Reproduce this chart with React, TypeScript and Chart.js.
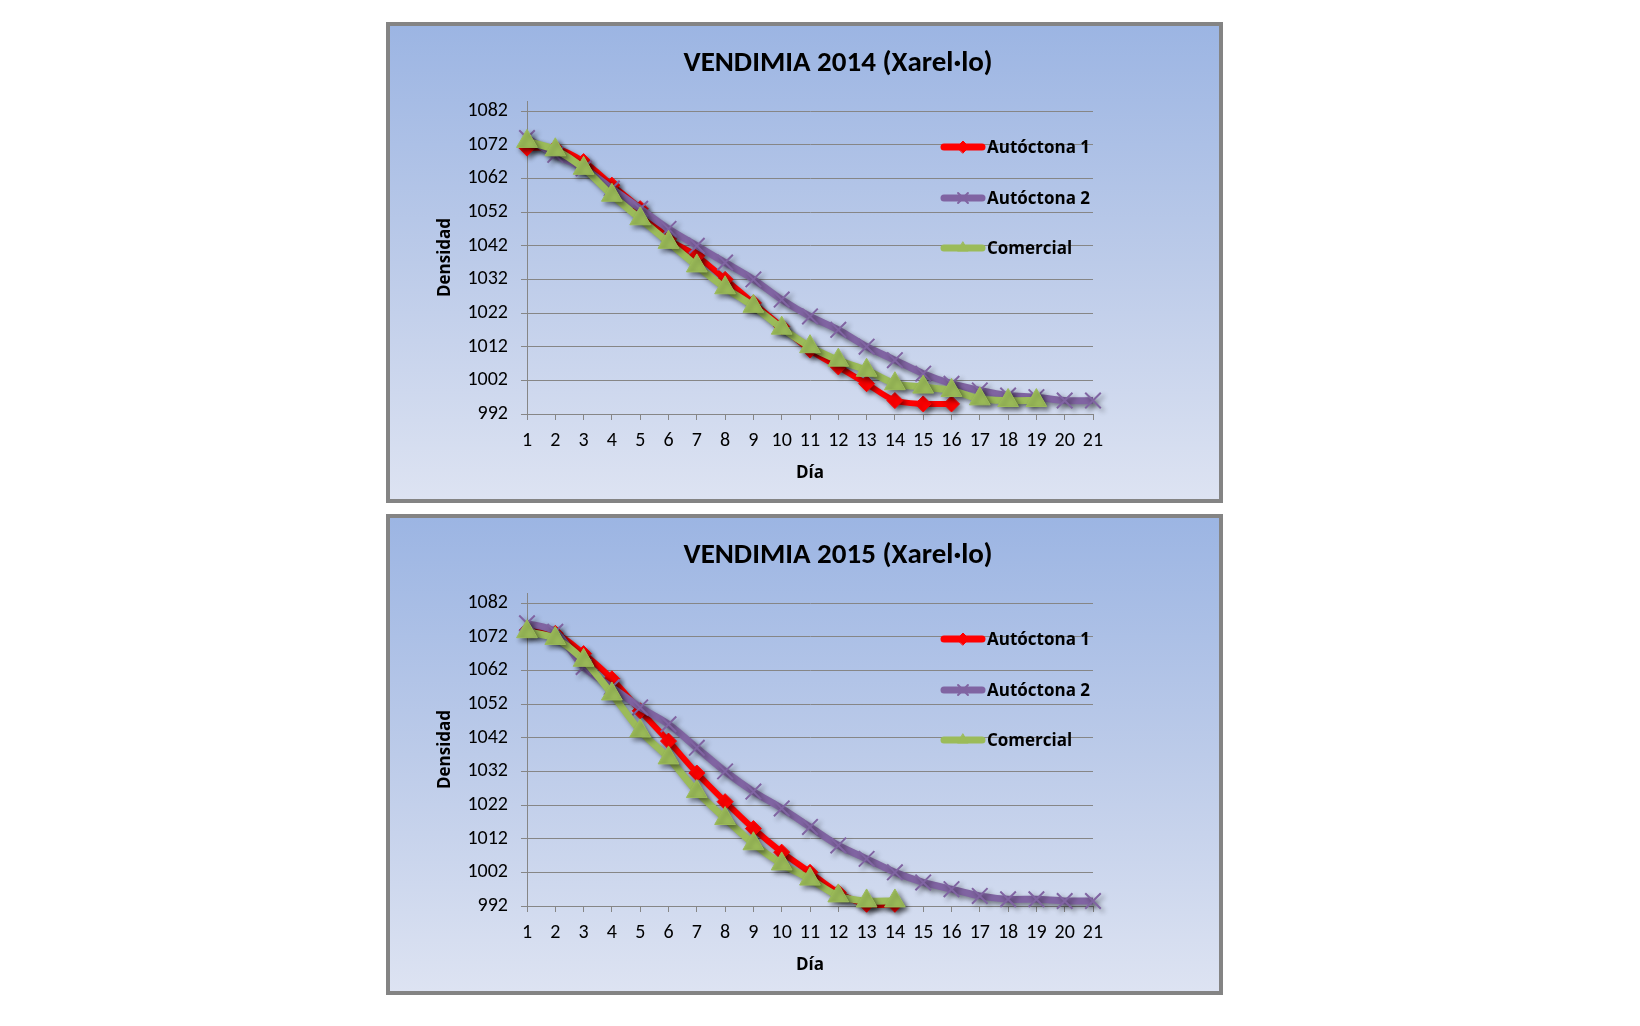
import React, { useEffect, useRef } from "react";
import { Chart, registerables } from "chart.js";
import { drawPoint } from "chart.js/helpers";

Chart.register(...registerables);

// ---- data ----
const dias = ["1", "2", "3", "4", "5", "6", "7", "8", "9", "10", "11", "12", "13", "14", "15", "16", "17", "18", "19", "20", "21"];
const yTicks = [992, 1002, 1012, 1022, 1032, 1042, 1052, 1062, 1072, 1082];
const seriesNames = ["Autóctona 1", "Autóctona 2", "Comercial"];

const autoctona1_2014 = [1071, 1071, 1067, 1060, 1053, 1044, 1039, 1032, 1025, 1018, 1011, 1006, 1001, 996, 995, 995];
const autoctona2_2014 = [1074, 1069, 1065, 1059, 1053, 1047, 1042, 1037, 1032, 1026, 1021, 1017, 1012, 1008, 1004, 1001, 999, 997.5, 997, 996, 996];
const comercial_2014 = [1073, 1070.5, 1065, 1057, 1050, 1043, 1036, 1029.5, 1024, 1017.5, 1012, 1008, 1005, 1001, 1000, 999, 996.5, 996, 996];

const autoctona1_2015 = [1074, 1073, 1067, 1059.5, 1050, 1041, 1031.5, 1023, 1015, 1008, 1002, 996, 992.5, 992.5];
const autoctona2_2015 = [1076, 1073.5, 1063, 1057, 1051, 1046, 1039, 1032, 1026, 1021, 1015.5, 1010, 1006, 1002, 999, 997, 995, 994, 994, 993.5, 993.5];
const comercial_2015 = [1073.5, 1071.5, 1065, 1055, 1044, 1036, 1026, 1018, 1010.5, 1004.5, 1000, 995, 993.5, 993.5];

// ---- styles ----
const COLORS = ["#FF0000", "#8064A2", "#9BBB59"];
const TICK_FONT = "Carlito, Lato, sans-serif";
const BOLD_FONT = "'Open Sans', sans-serif";

const shadowPlugin = {
  id: "lineShadow",
  beforeDatasetsDraw(chart: any) {
    const ctx = chart.ctx;
    ctx.save();
    ctx.shadowColor = "rgba(0,0,0,0.45)";
    ctx.shadowBlur = 5;
    ctx.shadowOffsetX = 3;
    ctx.shadowOffsetY = 3;
  },
  afterDatasetsDraw(chart: any) {
    chart.ctx.restore();
  },
};

const titlePlugin = {
  id: "panelTitle",
  afterDraw(chart: any, _args: any, opts: any) {
    const ctx = chart.ctx;
    ctx.save();
    ctx.fillStyle = "#000";
    ctx.font = `bold 29px ${TICK_FONT}`;
    ctx.textAlign = "center";
    ctx.textBaseline = "middle";
    ctx.fillText(opts.text, 448, 38);
    ctx.restore();
  },
};

const legendPlugin = {
  id: "insideLegend",
  afterDraw(chart: any) {
    const ctx = chart.ctx;
    const ys = [121, 172, 222];
    chart.data.datasets.forEach((ds: any, i: number) => {
      const y = ys[i];
      ctx.save();
      ctx.strokeStyle = ds.borderColor;
      ctx.lineWidth = 7;
      ctx.lineCap = "round";
      ctx.beginPath();
      ctx.moveTo(554, y);
      ctx.lineTo(592, y);
      ctx.stroke();
      ctx.fillStyle = ds.pointBackgroundColor;
      ctx.strokeStyle = ds.pointBorderColor;
      ctx.lineWidth = ds.pointBorderWidth;
      drawPoint(ctx, { pointStyle: ds.pointStyle, radius: ds.pointStyle === "crossRot" ? 7 : 6, borderWidth: ds.pointBorderWidth, rotation: 0 } as any, 573, y);
      ctx.fillStyle = "#000";
      ctx.font = `bold 17px ${BOLD_FONT}`;
      ctx.textBaseline = "middle";
      ctx.textAlign = "left";
      ctx.fillText(seriesNames[i], 597, y + 1);
      ctx.restore();
    });
  },
};

function makeDatasets(a1: number[], a2: number[], com: number[]) {
  return [
    {
      label: seriesNames[0],
      data: a1,
      order: 2,
      borderColor: COLORS[0],
      backgroundColor: COLORS[0],
      pointBackgroundColor: COLORS[0],
      pointBorderColor: COLORS[0],
      pointBorderWidth: 1,
      pointStyle: "rectRot",
      pointRadius: 8,
      borderWidth: 6,
      tension: 0.3,
      clip: false,
    },
    {
      label: seriesNames[1],
      data: a2,
      order: 1,
      borderColor: COLORS[1],
      backgroundColor: COLORS[1],
      pointBackgroundColor: COLORS[1],
      pointBorderColor: COLORS[1],
      pointBorderWidth: 2,
      pointStyle: "crossRot",
      pointRadius: 11,
      borderWidth: 7,
      tension: 0.3,
      clip: false,
    },
    {
      label: seriesNames[2],
      data: com,
      order: 0,
      borderColor: COLORS[2],
      backgroundColor: COLORS[2],
      pointBackgroundColor: COLORS[2],
      pointBorderColor: COLORS[2],
      pointBorderWidth: 1,
      pointStyle: "triangle",
      pointRadius: 12,
      borderWidth: 7,
      tension: 0.3,
      clip: false,
    },
  ];
}

function ChartPanel({ title, a1, a2, com, top }: { title: string; a1: number[]; a2: number[]; com: number[]; top: number }) {
  const ref = useRef<HTMLCanvasElement | null>(null);
  useEffect(() => {
    if (!ref.current) return;
    const chart = new Chart(ref.current, {
      type: "line",
      data: { labels: dias, datasets: makeDatasets(a1, a2, com) as any },
      options: {
        responsive: false,
        animation: false,
        layout: { padding: { left: 45, right: 126, top: 75, bottom: 16 } },
        plugins: {
          legend: { display: false },
          tooltip: { enabled: false },
          title: { display: false },
          panelTitle: { text: title },
        } as any,
        scales: {
          x: {
            type: "category",
            offset: false,
            grid: { drawOnChartArea: false, drawTicks: true, tickLength: 6, color: "#868686" },
            border: { display: true, color: "#868686" },
            ticks: { color: "#000", font: { family: TICK_FONT, size: 20 }, padding: 9, autoSkip: false, maxRotation: 0 },
            title: { display: true, text: "Día", color: "#000", font: { family: BOLD_FONT, size: 17, weight: "bold", lineHeight: 1.2 }, padding: 0 },
            afterFit: (s: any) => {
              s.height = 69;
            },
          },
          y: {
            min: 992,
            max: 1085,
            afterBuildTicks: (s: any) => {
              s.ticks = yTicks.map((v) => ({ value: v }));
            },
            grid: { color: "#868686", tickLength: 6 },
            border: { display: true, color: "#868686" },
            ticks: { color: "#000", font: { family: TICK_FONT, size: 20 }, padding: 13, callback: (v: any) => String(v) },
            title: { display: true, text: "Densidad", color: "#000", font: { family: BOLD_FONT, size: 17, weight: "bold", lineHeight: 1.2 }, padding: 0 },
            afterFit: (s: any) => {
              s.width = 92;
            },
          },
        },
      },
      plugins: [shadowPlugin, legendPlugin, titlePlugin],
    });
    return () => chart.destroy();
  }, []);
  return (
    <div
      style={{
        position: "absolute",
        left: 386,
        top,
        width: 837,
        height: 481,
        boxSizing: "border-box",
        border: "4px solid #848484",
        background: "linear-gradient(to bottom, #9cb5e3 0%, #bccbe9 50%, #dde3f2 100%)",
      }}
    >
      <canvas ref={ref} width={829} height={473} style={{ display: "block", width: 829, height: 473 }} />
    </div>
  );
}

export default function App() {
  return (
    <div>
      <ChartPanel title="VENDIMIA 2014 (Xarel·lo)" a1={autoctona1_2014} a2={autoctona2_2014} com={comercial_2014} top={22} />
      <ChartPanel title="VENDIMIA 2015 (Xarel·lo)" a1={autoctona1_2015} a2={autoctona2_2015} com={comercial_2015} top={514} />
    </div>
  );
}
